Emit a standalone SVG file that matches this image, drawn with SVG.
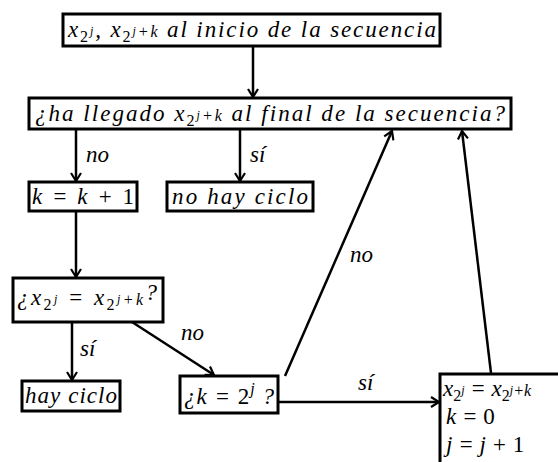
<svg xmlns="http://www.w3.org/2000/svg" width="558" height="462" viewBox="0 0 558 462">
<style>
.box{fill:#fff;stroke:#000;stroke-width:3}
.u{font-style:normal}
.s{font-size:16px}
.ss{font-size:12px}
.c line{stroke:#000;stroke-width:2.5;marker-end:url(#ah)}
</style>
<defs>
<marker id="ah" markerWidth="12" markerHeight="12" refX="9" refY="6" orient="auto" markerUnits="userSpaceOnUse">
<path d="M1,1 L9,6 L1,11" fill="none" stroke="#000" stroke-width="2.2"/>
</marker>
</defs>
<rect width="558" height="462" fill="#fff"/>
<g class="c" id="connectors">
<line x1="253" y1="46" x2="253" y2="97"/>
<line x1="76" y1="129" x2="76" y2="181"/>
<line x1="240" y1="129" x2="240" y2="181"/>
<line x1="76" y1="211" x2="76" y2="277"/>
<line x1="72" y1="322" x2="72" y2="380"/>
<line x1="132" y1="322" x2="214" y2="375"/>
<line x1="285" y1="376" x2="392" y2="131"/>
<line x1="278" y1="402" x2="439" y2="402"/>
<line x1="491" y1="373" x2="462" y2="131"/>
</g>
<g font-family="Liberation Serif" font-style="italic" font-size="23" fill="#000">
<g id="labels">
<text font-family="Liberation Serif" x="86" y="162">no</text>
<text font-family="Liberation Serif" x="250" y="162">sí</text>
<text font-family="Liberation Serif" x="350" y="262">no</text>
<text font-family="Liberation Serif" x="80" y="356">sí</text>
<text font-family="Liberation Serif" x="181" y="340">no</text>
<text font-family="Liberation Serif" x="358" y="390">sí</text>
</g>
<g id="n1">
<rect class="box" x="63" y="14" width="377" height="32"/>
<text font-family="Liberation Serif" x="68" y="37" textLength="368" lengthAdjust="spacing">x<tspan class="s u" dy="5">2</tspan><tspan class="ss" dy="-7">j</tspan><tspan dy="2">, x</tspan><tspan class="s u" dy="5">2</tspan><tspan class="ss" dy="-7">j</tspan><tspan class="s" dy="2">+k</tspan><tspan> al inicio de la secuencia</tspan></text>
</g>
<g id="n2">
<rect class="box" x="29" y="98" width="482" height="31"/>
<text font-family="Liberation Serif" x="35" y="121" textLength="470" lengthAdjust="spacing">¿ha llegado x<tspan class="s u" dy="5">2</tspan><tspan class="ss" dy="-7">j</tspan><tspan class="s" dy="2">+k</tspan><tspan> al final de la secuencia?</tspan></text>
</g>
<g id="n3">
<rect class="box" x="29" y="182" width="108" height="29"/>
<text font-family="Liberation Serif" x="32" y="204" textLength="102" lengthAdjust="spacing">k = k + <tspan class="u">1</tspan></text>
</g>
<g id="n4">
<rect class="box" x="167" y="182" width="146" height="29"/>
<text font-family="Liberation Serif" x="172" y="204" textLength="136" lengthAdjust="spacing">no hay ciclo</text>
</g>
<g id="n5">
<rect class="box" x="13" y="278" width="150" height="44"/>
<text font-family="Liberation Serif" x="17" y="305" textLength="140" lengthAdjust="spacing">¿x<tspan class="s u" dy="5">2</tspan><tspan class="ss" dy="-7">j</tspan><tspan dy="2"> = x</tspan><tspan class="s u" dy="5">2</tspan><tspan class="ss" dy="-7">j</tspan><tspan class="s" dy="2">+k</tspan><tspan dy="-5">?</tspan></text>
</g>
<g id="n6">
<rect class="box" x="22" y="381" width="98" height="30"/>
<text font-family="Liberation Serif" x="25" y="403" textLength="92" lengthAdjust="spacing">hay ciclo</text>
</g>
<g id="n7">
<rect class="box" x="180" y="376" width="98" height="37"/>
<text font-family="Liberation Serif" x="184" y="404" textLength="90" lengthAdjust="spacing">¿k = <tspan class="u">2</tspan><tspan class="s" dy="-10">j</tspan><tspan dy="10"> ?</tspan></text>
</g>
<g id="n8">
<rect class="box" x="440" y="374" width="125" height="95"/>
<text font-family="Liberation Serif" x="443" y="396">x<tspan class="s u" dy="5">2</tspan><tspan class="ss" dy="-7">j</tspan><tspan dy="2"> = x</tspan><tspan class="s u" dy="5">2</tspan><tspan class="ss" dy="-7">j</tspan><tspan class="s" dy="2">+k</tspan></text>
<text font-family="Liberation Serif" x="446" y="424">k = <tspan class="u">0</tspan></text>
<text font-family="Liberation Serif" x="446" y="452">j = j + <tspan class="u">1</tspan></text>
</g>
</g>
</svg>
